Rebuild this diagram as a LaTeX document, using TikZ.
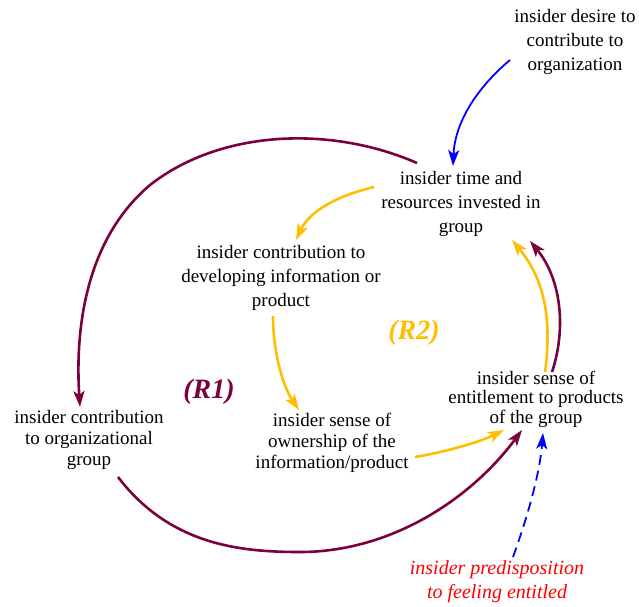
\documentclass[tikz,border=0pt]{standalone}
\usepackage{fontspec}
\setmainfont{Liberation Serif}
\usetikzlibrary{arrows.meta}
\definecolor{loopmaroon}{RGB}{122,0,62}
\definecolor{loopgold}{RGB}{255,190,0}
\definecolor{linkblue}{RGB}{0,0,255}
\definecolor{drivered}{RGB}{255,0,0}
\begin{document}
\begin{tikzpicture}[x=1pt,y=-1pt,
  varbox/.style={align=center,inner sep=0pt,font=\fontsize{19}{24}\selectfont},
  tightbox/.style={varbox,font=\fontsize{19}{21}\selectfont},
  loopname/.style={font=\fontsize{28}{30}\selectfont\bfseries\itshape,inner sep=0pt},
  link/.style={line width=2.6pt,-{Stealth[length=16pt,width=11pt,inset=4pt]}},
  maroonlink/.style={link,draw=loopmaroon},
  goldlink/.style={link,draw=loopgold},
  bluelink/.style={line width=1.8pt,draw=linkblue,-{Stealth[length=16pt,width=11pt,inset=4pt]}}
]
\useasboundingbox (0,0) rectangle (639,606);

% variables
\node[varbox] (desire) at (575,42) {insider desire to\\contribute to\\organization};
\node[varbox] (invest) at (461,204) {insider time and\\resources invested in\\group};
\node[varbox] (develop) at (281,278) {insider contribution to\\developing information or\\product};
\node[tightbox] (orggroup) at (89,440) {insider contribution\\to organizational\\group};
\node[tightbox] (ownership) at (332,443) {insider sense of\\ownership of the\\information/product};
\node[varbox,font=\fontsize{19}{19.5}\selectfont] (entitle) at (536,399) {insider sense of\\entitlement to products\\of the group};
\node[varbox,font=\fontsize{20}{24}\selectfont\itshape,text=drivered] (predisp) at (497,582) {insider predisposition\\to feeling entitled};

% loop labels
\node[loopname,text=loopmaroon] (rone) at (209,392) {(R1)};
\node[loopname,text=loopgold] (rtwo) at (414,333) {(R2)};

% loop R1: outer circle
\draw[maroonlink] ([shift={(-44pt,41pt)}]invest.center)
  .. controls (330,125) and (220,130) .. (150,185)
  .. controls (85,240) and (75,330) .. ([shift={(-9pt,33pt)}]orggroup.center);
\draw[maroonlink] ([shift={(29pt,-37pt)}]orggroup.center)
  .. controls (170,545) and (240,552) .. (300,552)
  .. controls (390,552) and (470,500) .. ([shift={(-14pt,-31pt)}]entitle.center);
\draw[maroonlink] ([shift={(16pt,27pt)}]entitle.center)
  .. controls (566,330) and (562,280) .. ([shift={(69pt,-37pt)}]invest.center);

% loop R2: inner circle
\draw[goldlink] ([shift={(-87pt,17pt)}]invest.center)
  .. controls (340,195) and (310,210) .. ([shift={(15pt,38pt)}]develop.center);
\draw[goldlink] ([shift={(-8pt,-38pt)}]develop.center)
  .. controls (273,350) and (282,385) .. ([shift={(-33pt,33pt)}]ownership.center);
\draw[goldlink] ([shift={(83pt,-14pt)}]ownership.center)
  .. controls (445,452) and (480,442) .. ([shift={(-32pt,-31pt)}]entitle.center);
\draw[goldlink] ([shift={(9pt,27pt)}]entitle.center)
  .. controls (552,320) and (545,280) .. ([shift={(51pt,-36pt)}]invest.center);

% outside drivers
\draw[bluelink] ([shift={(-65pt,-18pt)}]desire.center)
  .. controls (480,85) and (455,120) .. ([shift={(-8pt,38pt)}]invest.center);
\draw[bluelink,dash pattern=on 10pt off 6pt] ([shift={(16pt,25pt)}]predisp.center)
  .. controls (530,510) and (540,470) .. ([shift={(7pt,-34pt)}]entitle.center);
\end{tikzpicture}
\end{document}
